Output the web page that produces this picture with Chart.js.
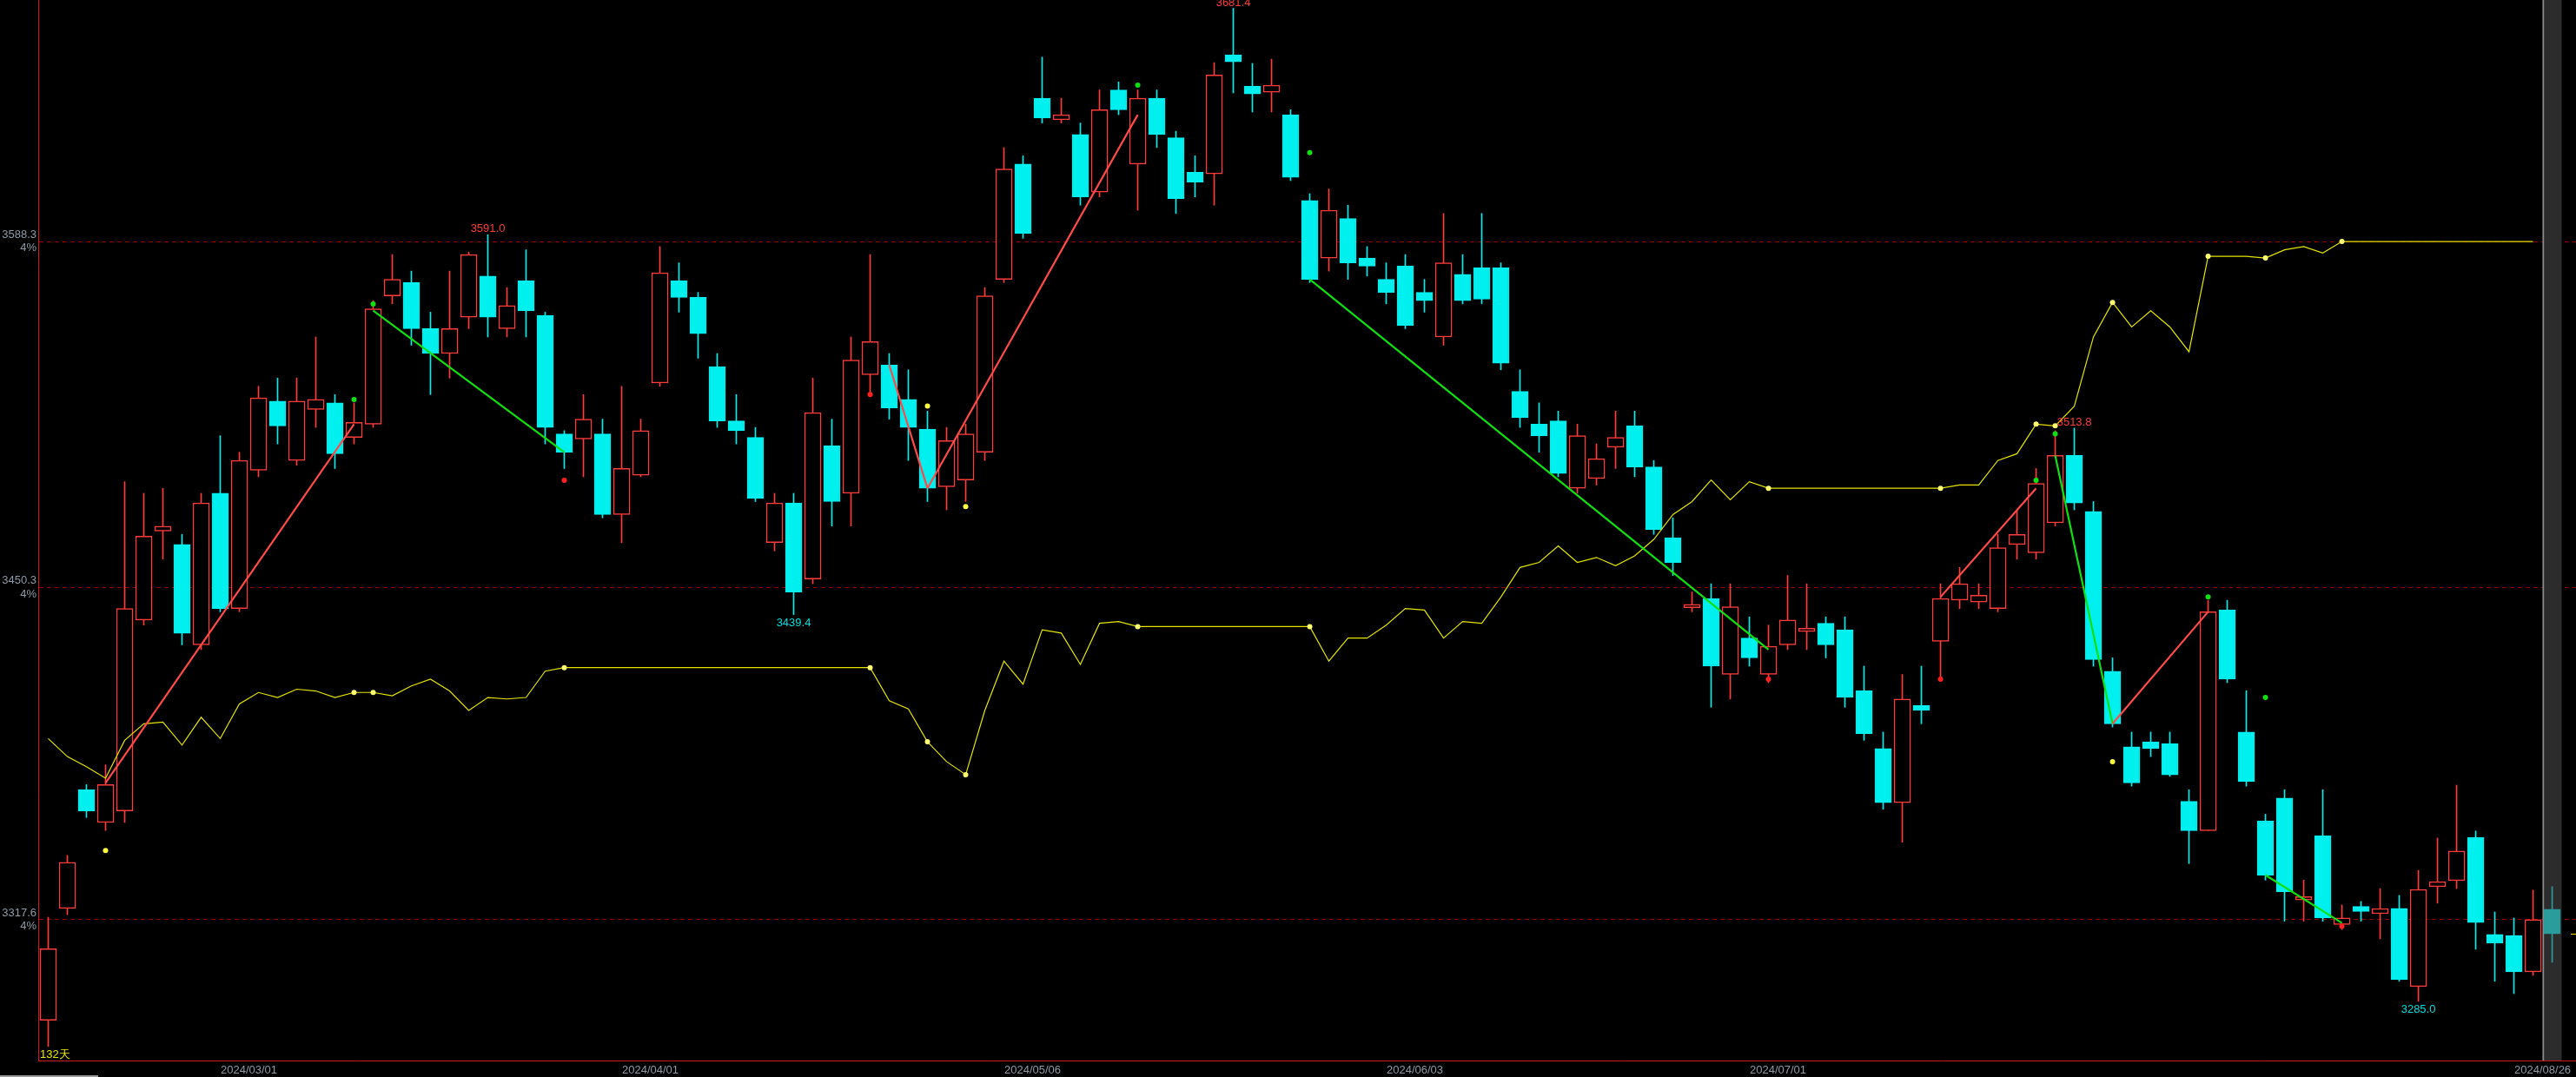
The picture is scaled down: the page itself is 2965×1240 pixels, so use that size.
<!DOCTYPE html>
<html>
<head>
<meta charset="utf-8">
<script src="https://cdn.jsdelivr.net/npm/chart.js@4.4.1/dist/chart.umd.min.js"></script>
<style>
html,body{margin:0;padding:0;background:#000;overflow:hidden}
canvas{display:block}
</style>
</head>
<body>
<canvas id="kline" width="2965" height="1240"></canvas>
<script>
'use strict'

// daily candles, 132 trading days
var openP = [
  3277.5,3322.1,3369.5,3356.4,3361.0,3437.2,3472.7,3467.4,3427.3,3487.8,
  3441.8,3497.0,3524.6,3500.9,3521.3,3523.9,3510.1,3515.4,3566.6,3571.9,
  3553.5,3543.6,3558.1,3574.5,3553.5,3572.6,3558.8,3511.5,3509.5,3511.5,
  3479.3,3495.0,3531.8,3572.6,3566.0,3538.4,3516.7,3510.1,3468.1,3483.9,
  3453.6,3506.8,3487.8,3535.1,3539.0,3525.3,3513.4,3490.4,3493.1,3504.2,
  3573.2,3619.2,3645.5,3636.9,3631.0,3608.0,3648.8,3619.2,3645.5,3629.7,
  3615.9,3615.3,3662.8,3650.3,3647.9,3638.9,3604.7,3581.7,3597.5,3581.7,
  3573.2,3578.5,3568.0,3550.2,3575.2,3577.8,3577.8,3528.5,3515.4,3516.7,
  3489.8,3493.7,3506.2,3514.7,3498.3,3470.1,3442.1,3445.8,3415.5,3430.0,
  3415.5,3427.3,3432.6,3435.9,3433.3,3409.0,3385.9,3364.3,3403.1,3428.7,
  3445.2,3444.4,3441.8,3467.4,3464.1,3476.0,3502.9,3480.6,3416.8,3386.6,
  3388.6,3387.9,3364.9,3353.1,3441.2,3392.5,3357.1,3366.2,3325.5,3351.1,
  3315.7,3322.9,3320.0,3322.1,3290.9,3330.8,3333.2,3350.5,3311.7,3311.3,
  3296.8,3321.8];
var highP = [
  3318.6,3343.3,3371.5,3379.4,3492.4,3487.8,3489.8,3471.4,3487.8,3510.8,
  3504.2,3530.5,3533.8,3533.8,3550.2,3527.2,3523.9,3564.7,3583.1,3576.5,
  3560.1,3576.5,3584.1,3591.0,3569.9,3585.0,3560.1,3512.8,3527.2,3517.4,
  3530.5,3517.4,3586.3,3579.8,3568.0,3543.6,3527.2,3514.1,3487.8,3487.8,
  3533.8,3517.4,3550.2,3583.1,3543.6,3537.1,3520.6,3514.1,3515.4,3569.9,
  3625.8,3622.5,3661.9,3645.5,3635.6,3648.8,3652.0,3648.8,3648.8,3632.3,
  3622.5,3659.7,3681.4,3659.4,3661.1,3640.9,3607.4,3609.3,3602.8,3586.3,
  3579.8,3583.1,3573.2,3599.5,3583.1,3599.5,3579.8,3537.1,3523.9,3520.6,
  3515.4,3507.5,3520.6,3520.6,3500.9,3478.0,3448.4,3451.7,3451.7,3438.5,
  3435.2,3455.0,3451.7,3438.5,3438.5,3418.8,3392.5,3415.5,3418.8,3451.7,
  3458.2,3451.7,3471.4,3481.2,3497.7,3512.8,3513.8,3484.5,3422.1,3392.5,
  3392.5,3392.5,3369.5,3445.1,3445.1,3409.0,3359.7,3369.5,3333.4,3369.5,
  3323.5,3324.9,3330.0,3327.3,3337.3,3350.2,3371.3,3353.0,3320.7,3318.3,
  3329.4,3330.8];
var lowP = [
  3267.0,3319.6,3358.4,3353.2,3356.4,3435.2,3461.5,3427.3,3425.4,3440.5,
  3440.5,3494.4,3507.5,3499.0,3514.1,3497.7,3507.5,3514.1,3563.4,3546.9,
  3527.2,3533.8,3553.5,3550.2,3550.2,3550.2,3507.5,3497.7,3494.4,3478.0,
  3468.1,3494.4,3530.5,3560.1,3541.7,3514.1,3507.5,3484.5,3464.8,3439.4,
  3451.7,3474.7,3474.7,3527.2,3517.4,3500.9,3484.5,3481.2,3484.5,3500.9,
  3571.9,3589.6,3635.6,3635.6,3602.8,3606.1,3638.9,3600.8,3625.8,3599.5,
  3606.1,3602.8,3647.6,3640.0,3640.0,3612.6,3571.9,3576.5,3573.2,3574.5,
  3563.4,3553.5,3560.1,3546.9,3563.4,3563.4,3537.1,3514.1,3504.2,3494.4,
  3487.8,3491.1,3497.7,3494.4,3471.4,3455.0,3440.5,3402.4,3405.7,3418.8,
  3412.2,3425.4,3425.4,3422.1,3402.4,3389.2,3361.7,3348.5,3395.8,3413.6,
  3441.8,3441.8,3440.5,3461.5,3461.5,3474.7,3481.2,3418.8,3394.5,3370.9,
  3382.7,3374.8,3340.0,3353.1,3412.2,3370.9,3333.4,3317.0,3317.0,3317.0,
  3313.7,3317.0,3310.0,3293.0,3285.0,3324.2,3330.0,3305.8,3293.0,3288.1,
  3295.4,3300.6];
var closeP = [
  3306.0,3340.5,3361.0,3371.5,3441.8,3470.7,3474.7,3431.9,3483.9,3441.8,
  3500.9,3525.9,3514.7,3524.6,3525.3,3503.6,3516.1,3561.4,3573.2,3553.5,
  3543.6,3553.5,3583.1,3558.1,3562.7,3560.7,3514.1,3504.2,3517.4,3479.3,
  3497.7,3512.8,3575.8,3566.0,3551.5,3516.7,3512.8,3485.8,3483.9,3448.4,
  3520.0,3484.5,3541.0,3548.3,3521.9,3514.1,3489.8,3508.8,3511.5,3566.6,
  3617.2,3591.6,3637.6,3638.9,3606.1,3640.9,3640.9,3645.5,3631.0,3605.4,
  3612.0,3654.8,3660.0,3647.2,3650.7,3613.9,3573.2,3600.8,3579.8,3578.5,
  3568.0,3554.8,3564.7,3579.8,3564.7,3565.3,3539.7,3518.0,3510.8,3495.7,
  3510.8,3501.6,3510.1,3498.3,3473.3,3460.2,3443.5,3418.8,3442.5,3422.1,
  3426.7,3437.2,3433.9,3427.3,3406.3,3391.9,3364.3,3405.7,3401.1,3445.8,
  3451.7,3447.1,3466.1,3471.4,3491.7,3502.9,3483.9,3421.4,3395.8,3372.2,
  3386.0,3375.4,3353.1,3440.5,3413.6,3372.8,3335.4,3328.8,3326.8,3318.3,
  3318.3,3320.9,3322.0,3293.7,3329.7,3332.8,3345.0,3316.5,3308.2,3296.8,
  3317.6,3312.0];

// yellow trailing line (last day has no value)
var trailLine = [
  3389.9,3382.7,3378.7,3374.1,3389.2,3395.8,3396.5,3387.3,3398.4,3389.9,
  3403.7,3408.3,3406.3,3409.6,3408.9,3406.3,3408.3,3408.3,3407.0,3410.9,
  3413.6,3408.9,3401.1,3406.3,3405.7,3406.3,3416.8,3418.2,3418.2,3418.2,
  3418.2,3418.2,3418.2,3418.2,3418.2,3418.2,3418.2,3418.2,3418.2,3418.2,
  3418.2,3418.2,3418.2,3418.2,3405.0,3401.7,3388.6,3380.7,3375.5,3401.1,
  3420.8,3411.6,3433.3,3432.0,3419.5,3435.9,3436.6,3434.6,3434.6,3434.6,
  3434.6,3434.6,3434.6,3434.6,3434.6,3434.6,3434.6,3420.8,3430.0,3430.0,
  3435.2,3441.8,3441.2,3430.0,3436.6,3435.9,3446.4,3458.2,3460.2,3466.8,
  3460.2,3462.2,3458.9,3462.8,3469.4,3479.3,3484.5,3493.1,3485.2,3492.4,
  3489.8,3489.8,3489.8,3489.8,3489.8,3489.8,3489.8,3489.8,3489.8,3489.8,
  3491.1,3491.1,3500.9,3503.6,3515.4,3514.7,3522.6,3550.2,3564.0,3554.2,
  3560.7,3554.2,3544.3,3582.4,3582.4,3582.4,3581.7,3585.0,3586.3,3583.7,
  3588.3,3588.3,3588.3,3588.3,3588.3,3588.3,3588.3,3588.3,3588.3,3588.3,
  3588.3,null];
var trailDots = [16,17,27,43,46,48,57,66,90,99,104,105,108,113,116,120];

// zigzag segments [index, price]
var swingUp = [
  [[3,3372.2],[16,3515.4]],
  [[44,3539.0],[46,3489.8]],
  [[46,3489.8],[57,3638.9]],
  [[99,3446.4],[104,3489.8]],
  [[108,3395.8],[113,3440.5]]];
var swingDown = [
  [[17,3560.7],[27,3504.2]],
  [[66,3573.2],[90,3425.4]],
  [[105,3502.9],[108,3395.8]],
  [[116,3335.4],[120,3316.3]]];

// little signal marks
var markYellow = [[3,3345.2],[46,3522.6],[48,3482.5],[108,3380.7]];
var markGreen = [[16,3525.2],[17,3563.4],[57,3650.7],[66,3623.8],[104,3493.0],[105,3511.5],[113,3446.4],[116,3406.3]];
var markRed = [[27,3493.0],[43,3527.2],[90,3413.6],[99,3413.6],[120,3315.0]];

// extreme price labels
var extremeHigh = [23, 62, 106];
var extremeLow = [39, 124];

var yTicks = [3588.3, 3450.3, 3317.6];
var dateIdx = [11, 32, 52, 72, 91, 131];
var dateText = ['2024/03/01','2024/04/01','2024/05/06','2024/06/03','2024/07/01','2024/08/26'];

var RED = '#ff3b3b', CYAN = '#00f0f0', TEAL = '#2a9c9c';
var Y_MIN = 3261.4, Y_MAX = 3684.7;
var last = closeP.length - 1;

Chart.defaults.font.family = '"Liberation Sans", Arial, sans-serif';
Chart.defaults.font.size = 13;

function colorOf(i) {
  if (i === last) return TEAL;
  return closeP[i] >= openP[i] ? RED : CYAN;
}

var wicks = [], bodies = [];
for (var i = 0; i < closeP.length; i++) {
  wicks.push({x: i, y: [lowP[i], highP[i]]});
  bodies.push({x: i, y: [openP[i], closeP[i]]});
}
var trail = trailLine.map(function (v, i) { return {x: i, y: v}; });
var pts = function (a) { return a.map(function (p) { return {x: p[0], y: p[1]}; }); };

var segSets = [];
swingUp.forEach(function (s) {
  segSets.push({type: 'line', data: pts(s), borderColor: '#ff4a4a', borderWidth: 2.2, pointRadius: 0, order: 1});
});
swingDown.forEach(function (s) {
  segSets.push({type: 'line', data: pts(s), borderColor: '#10e010', borderWidth: 2.2, pointRadius: 0, order: 1});
});

var textMarks = {
  id: 'textMarks',
  afterDatasetsDraw: function (chart) {
    var ctx = chart.ctx, x = chart.scales.x, y = chart.scales.y, a = chart.chartArea;
    ctx.save();
    ctx.font = '13px "Liberation Sans", Arial, sans-serif';
    ctx.textAlign = 'center';
    ctx.textBaseline = 'alphabetic';
    ctx.fillStyle = '#ff3a3a';
    extremeHigh.forEach(function (i) {
      ctx.fillText(highP[i].toFixed(1), x.getPixelForValue(i), y.getPixelForValue(highP[i]) - 3);
    });
    ctx.fillStyle = '#00dede';
    extremeLow.forEach(function (i) {
      ctx.fillText(lowP[i].toFixed(1), x.getPixelForValue(i), y.getPixelForValue(lowP[i]) + 13);
    });
    ctx.textAlign = 'left';
    ctx.fillStyle = '#e8e800';
    ctx.fillText(closeP.length + '天', a.left + 2, a.bottom - 3);
    // last price tick on the right edge
    var ly = Math.round(y.getPixelForValue(closeP[last])) + 0.5;
    ctx.strokeStyle = '#e8e800';
    ctx.lineWidth = 1;
    ctx.beginPath();
    ctx.moveTo(a.right - 6, ly);
    ctx.lineTo(a.right, ly);
    ctx.stroke();
    // scroll strip under the axis
    ctx.fillStyle = '#9a9a9a';
    ctx.fillRect(0, chart.height - 2, 113, 2);
    ctx.restore();
  }
};

new Chart(document.getElementById('kline'), {
  type: 'bar',
  data: {
    datasets: [
      {
        type: 'bar', data: [{x: last, y: [Y_MIN, Y_MAX]}],
        backgroundColor: '#2c2c2c', borderColor: '#8a8a8a',
        borderWidth: {left: 2, right: 0, top: 0, bottom: 0}, borderSkipped: false,
        barThickness: 22, grouped: false, order: 10
      },
      {
        type: 'bar', data: wicks,
        backgroundColor: wicks.map(function (d, i) { return colorOf(i); }),
        barThickness: 1, grouped: false, order: 6
      },
      {
        type: 'bar', data: bodies,
        backgroundColor: bodies.map(function (d, i) { return (i !== last && closeP[i] >= openP[i]) ? '#000' : colorOf(i); }),
        borderColor: bodies.map(function (d, i) { return colorOf(i); }),
        borderWidth: 1.5, borderSkipped: false,
        barThickness: 19, grouped: false, order: 5
      },
      {
        type: 'line', data: trail, borderColor: '#e4e400', borderWidth: 1.2,
        pointRadius: function (c) { return trailDots.indexOf(c.dataIndex) >= 0 ? 3 : 0; },
        pointBackgroundColor: '#ffff70', pointBorderWidth: 0, tension: 0, order: 2
      }
    ].concat(segSets).concat([
      {type: 'scatter', data: pts(markYellow), pointRadius: 3, pointBackgroundColor: '#ffff40', pointBorderWidth: 0, order: 0},
      {type: 'scatter', data: pts(markGreen), pointRadius: 3, pointBackgroundColor: '#10e010', pointBorderWidth: 0, order: 0},
      {type: 'scatter', data: pts(markRed), pointRadius: 3, pointBackgroundColor: '#ff2020', pointBorderWidth: 0, order: 0}
    ])
  },
  options: {
    responsive: false,
    animation: false,
    events: [],
    devicePixelRatio: 1,
    layout: {padding: 0, autoPadding: false},
    plugins: {legend: {display: false}, tooltip: {enabled: false}},
    scales: {
      x: {
        type: 'linear', position: 'bottom', offset: false,
        min: -0.523, max: 132.247,
        grid: {display: false, drawTicks: false},
        border: {display: true, color: '#c81818', width: 1},
        afterBuildTicks: function (s) { s.ticks = dateIdx.map(function (i) { return {value: i - 0.5}; }); },
        afterFit: function (s) { s.height = 19; s.paddingLeft = 0; s.paddingRight = 0; },
        ticks: {
          autoSkip: false, maxRotation: 0, padding: 4, color: '#8e9aa6',
          callback: function (v, idx) { return dateText[idx]; }
        }
      },
      y: {
        type: 'linear', position: 'left', beginAtZero: false,
        min: Y_MIN, max: Y_MAX,
        grid: {color: '#9a0000', lineWidth: 1, drawTicks: false},
        border: {display: true, color: '#e01010', width: 1, dash: [5, 4]},
        afterBuildTicks: function (s) { s.ticks = yTicks.map(function (v) { return {value: v}; }); },
        afterFit: function (s) { s.width = 44; s.paddingTop = 0; s.paddingBottom = 0; },
        ticks: {
          padding: 2, color: '#8e9aa6',
          callback: function (v) { return [v.toFixed(1), '4%']; }
        }
      }
    }
  },
  plugins: [textMarks]
});
</script>
</body>
</html>
